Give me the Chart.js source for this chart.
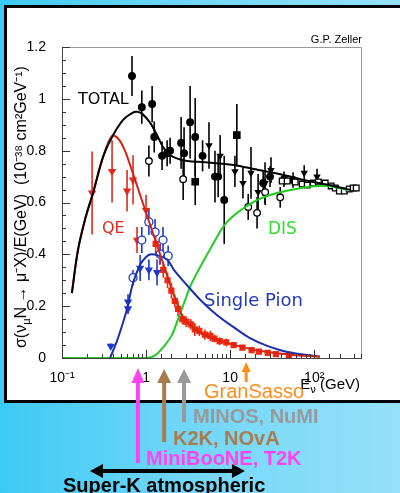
<!DOCTYPE html>
<html>
<head>
<meta charset="utf-8">
<script src="https://cdn.jsdelivr.net/npm/chart.js@4.4.1/dist/chart.umd.min.js"></script>
<style>
  html, body { margin: 0; padding: 0; }
  body {
    width: 400px; height: 493px; overflow: hidden; position: relative;
    background: linear-gradient(to right, #3ecaf6 0%, #6fd6f8 45%, #96e1fa 100%);
  }
  #panel {
    position: absolute; left: 4px; top: 5px; width: 400px; height: 392px;
    background: #fff; border: 3px solid #000;
  }
  #chart { position: absolute; left: 0; top: 0; }
</style>
</head>
<body>
<div id="panel"></div>
<canvas id="chart" width="400" height="493"></canvas>
<script>
// theory curves [E (GeV), sigma/E]
const curveTotal = [[0.131,0.25],[0.155,0.417],[0.19,0.54],[0.234,0.637],[0.308,0.776],[0.394,0.853],
  [0.53,0.918],[0.68,0.945],[0.78,0.95],[0.9,0.942],[1.12,0.907],[1.35,0.86],[1.59,0.814],[1.85,0.787],
  [2.1,0.776],[2.6,0.765],[3.1,0.76],[5,0.755],[10.9,0.745],[20,0.728],[42.8,0.706],[80,0.685],
  [168,0.664],[270,0.648]];
const curveQE = [[0.131,0.25],[0.155,0.417],[0.19,0.54],[0.234,0.637],[0.308,0.776],[0.394,0.857],
  [0.47,0.845],[0.56,0.8],[0.645,0.745],[0.85,0.629],[1.12,0.513],[1.35,0.436],[1.68,0.343],
  [2.04,0.262],[2.4,0.2],[2.76,0.158],[3.4,0.125],[4.4,0.096],[7,0.07],[15,0.04],[27.6,0.023],
  [60,0.011],[117,0.005]];
const curvePion = [[0.373,0],[0.45,0.065],[0.53,0.135],[0.594,0.19],[0.7,0.29],[0.85,0.36],[1.0,0.39],
  [1.15,0.4],[1.4,0.395],[1.78,0.38],[2.2,0.335],[2.9,0.29],[4.4,0.225],[7,0.165],[10.9,0.12],
  [17,0.078],[27.6,0.047],[50,0.022],[117,0.005]];
const curveDIS = [[0.1,0],[1.0,0],[1.28,0.01],[1.68,0.05],[2.04,0.09],[2.4,0.15],[2.93,0.225],
  [3.34,0.275],[4.14,0.335],[5.78,0.42],[9.2,0.525],[17.3,0.595],[30,0.629],[68,0.655],[143,0.664],
  [245,0.648]];

// measurements [E, value, error]
const blackDots = [[0.68,1.088,0.077],[0.89,0.968,0.064],[1.18,0.98,0.07],[1.25,0.853,0.06],
  [1.55,0.78,0.055],[1.78,0.79,0.05],[1.93,0.80,0.05],[2.61,0.83,0.1],[2.83,0.79,0.1],[3.34,0.91,0.14],
  [3.84,0.853,0.15],[4.7,0.78,0.06],[6.6,0.70,0.1],[7.2,0.70,0.08],[8.5,0.61,0.17],[24.7,0.675,0.05],
  [29.8,0.70,0.04],[43.7,0.69,0.03],[56,0.687,0.03]];
const blackSquares = [[3.84,0.68,0.09],[12,0.86,0.12]];
const blackOpen = [[1.08,0.76,0.06],[2.76,0.69,0.08],[16.4,0.583,0.05],[20.9,0.56,0.06],[26.1,0.64,0.05],
  [39.4,0.62,0.04]];
const blackTri = [[5.6,0.82,0.09],[7.6,0.78,0.08],[11.4,0.72,0.06],[14.2,0.675,0.06],[17.7,0.714,0.1],
  [21.5,0.64,0.07],[26,0.675,0.08],[30.6,0.725,0.05],[76,0.714,0.03],[108,0.70,0.03]];
const blackOpenSq = [[41.6,0.683,0.01],[47.7,0.683,0.01],[59.4,0.679,0.01],[72,0.671,0.01],
  [82.6,0.667,0.01],[97.3,0.675,0.01],[112,0.679,0.01],[135,0.675,0.01],[159,0.664,0.01],
  [178,0.656,0.01],[199,0.644,0.01],[228,0.644,0.01],[261,0.652,0.01],[291,0.656,0.01],[316,0.656,0.01]];
const redTri = [[0.228,0.637,0.16],[0.394,0.72,0.12],[0.594,0.645,0.08],[0.70,0.687,0.095],
  [0.78,0.455,0.05],[1.0,0.57,0.06]];
const redSq = [[1.3,0.44,0.04],[1.45,0.40,0.04],[1.6,0.34,0.03],[1.8,0.30,0.03],[2.0,0.26,0.03],
  [2.2,0.22,0.025],[2.4,0.19,0.03],[2.7,0.15,0.02],[3.0,0.14,0.02],[3.4,0.13,0.02],[3.8,0.11,0.025],
  [4.3,0.105,0.02],[5,0.09,0.02],[5.8,0.085,0.02],[6.5,0.075,0.015],[7.5,0.065,0.015],[9,0.06,0.015],
  [11,0.05,0.01],[14,0.04,0.01],[18,0.03,0.01],[22,0.025,0.008],[28,0.02,0.008],[35,0.015,0.006],
  [50,0.012,0.005]];
const blueOpen = [[0.70,0.31,0.03],[0.89,0.455,0.05],[1.08,0.525,0.05],[1.28,0.486,0.05],
  [1.47,0.401,0.04],[1.59,0.455,0.05],[1.83,0.394,0.04]];
const blueTri = [[0.38,0.046,0.01],[0.61,0.216,0.03],[0.61,0.19,0.02],[0.85,0.347,0.05],
  [1.08,0.34,0.04],[1.35,0.33,0.05]];

const xTickLabels = ['10⁻¹', '1', '10', '10²'];
const yMajorStep = 0.2;

// experiment arrows: energy where each one points
const arrowE = { miniboone: 0.80, k2k: 1.64, minos: 2.83, gransasso: 15.5 };
const superKRange = [0.215, 15.0];

const toXY = arr => arr.map(p => ({ x: p[0], y: p[1] }));
const errsOf = arr => arr.map(p => p[2]);

function curve(arr, color) {
  return { data: toXY(arr), showLine: true, borderColor: color, borderWidth: 2, pointRadius: 0,
    tension: 0.35, fill: false };
}
function points(arr, color, style, fillColor, rot, r) {
  return { data: toXY(arr), errs: errsOf(arr), showLine: false, pointStyle: style,
    pointRotation: rot || 0, pointRadius: r || 3.3, borderColor: color, borderWidth: 1.3,
    backgroundColor: fillColor, errColor: color };
}

const errorBars = {
  id: 'errorBars',
  beforeDatasetsDraw(chart) {
    const { ctx, scales: { x, y } } = chart;
    ctx.save();
    chart.data.datasets.forEach(ds => {
      if (!ds.errs) return;
      ctx.strokeStyle = ds.errColor;
      ctx.lineWidth = 1.6;
      ds.data.forEach((p, i) => {
        const px = x.getPixelForValue(p.x);
        ctx.beginPath();
        ctx.moveTo(px, y.getPixelForValue(p.y - ds.errs[i]));
        ctx.lineTo(px, y.getPixelForValue(p.y + ds.errs[i]));
        ctx.stroke();
      });
    });
    ctx.restore();
  }
};

const frameTicks = {
  id: 'frameTicks',
  afterDraw(chart) {
    const { ctx, chartArea: a, scales: { x, y } } = chart;
    ctx.save();
    ctx.strokeStyle = '#999';
    ctx.lineWidth = 1;
    ctx.beginPath();
    ctx.moveTo(a.left, a.top + 0.5); ctx.lineTo(a.right + 0.5, a.top + 0.5); ctx.lineTo(a.right + 0.5, a.bottom);
    ctx.stroke();
    ctx.strokeStyle = '#333';
    ctx.beginPath();
    x.ticks.forEach(t => {
      const l = Math.log10(t.value);
      const major = Math.abs(l - Math.round(l)) < 1e-6;
      const px = Math.round(x.getPixelForValue(t.value)) + 0.5;
      ctx.moveTo(px, a.bottom);
      ctx.lineTo(px, a.bottom - (major ? 8 : 4));
    });
    y.ticks.forEach(t => {
      const k = Math.round(t.value * 100);
      const major = k % Math.round(yMajorStep * 100) === 0;
      const py = Math.round(y.getPixelForValue(t.value)) + 0.5;
      ctx.moveTo(a.left, py);
      ctx.lineTo(a.left + (major ? 8 : 4), py);
    });
    ctx.stroke();
    ctx.restore();
  }
};

function upArrow(ctx, x, tip, tail, color, shaftW, headW, headH) {
  ctx.fillStyle = color;
  ctx.fillRect(x - shaftW / 2, tip + headH - 1, shaftW, tail - tip - headH + 1);
  ctx.beginPath();
  ctx.moveTo(x, tip);
  ctx.lineTo(x + headW / 2, tip + headH);
  ctx.lineTo(x - headW / 2, tip + headH);
  ctx.closePath();
  ctx.fill();
}

const annotations = {
  id: 'annotations',
  afterDraw(chart) {
    const { ctx, scales: { x } } = chart;
    ctx.save();
    ctx.textBaseline = 'middle';
    ctx.textAlign = 'left';
    const txt = (s, px, py, font, color) => { ctx.font = font; ctx.fillStyle = color; ctx.fillText(s, px, py); };

    txt('TOTAL', 78, 100, '16px "DejaVu Sans"', '#000');
    txt('QE', 102, 229, '16px "DejaVu Sans"', '#e02a1a');
    txt('DIS', 268, 230, '17px "DejaVu Sans"', '#33dd33');
    txt('Single Pion', 204, 301, '18px "DejaVu Sans"', '#2338b8');
    ctx.textAlign = 'right';
    txt('G.P. Zeller', 362, 40, '11px "Liberation Sans"', '#000');

    // x axis title: E_nu (GeV)
    ctx.textAlign = 'left';
    ctx.font = '15px "Liberation Sans"';
    const wE = ctx.measureText('E').width;
    ctx.font = '10px "DejaVu Sans"';
    const wNu = ctx.measureText('ν').width;
    ctx.font = '15px "Liberation Sans"';
    const wG = ctx.measureText(' (GeV)').width;
    let ex = 360 - wE - wNu - wG;
    txt('E', ex, 385, '15px "Liberation Sans"', '#000');
    txt('ν', ex + wE, 390, '10px "DejaVu Sans"', '#000');
    txt(' (GeV)', ex + wE + wNu, 385, '15px "Liberation Sans"', '#000');

    // y axis title, rotated
    ctx.save();
    ctx.translate(22, 348);
    ctx.rotate(-Math.PI / 2);
    const segs = [['σ(ν', 0, '16px "Liberation Sans"'], ['μ', 5, '10px "DejaVu Sans"'],
      ['N → μ⁻X)/E(GeV)  (10⁻³⁸ cm²GeV⁻¹)', 0, '16px "Liberation Sans"']];
    let sx = 0;
    segs.forEach(([s, dy, f]) => {
      ctx.font = f; ctx.fillStyle = '#000';
      ctx.fillText(s, sx, dy);
      sx += ctx.measureText(s).width;
    });
    ctx.restore();

    // experiments
    const px = e => x.getPixelForValue(e);
    upArrow(ctx, px(arrowE.gransasso), 362, 382, '#ff8c1a', 3, 9, 10);
    upArrow(ctx, px(arrowE.minos), 369, 422, '#999999', 4, 14, 14);
    upArrow(ctx, px(arrowE.k2k), 369, 442, '#a87c4c', 4, 14, 14);
    upArrow(ctx, px(arrowE.miniboone), 368, 463, '#ff44ee', 4, 13, 15);

    txt('GranSasso', 204, 392, '20px "Liberation Sans"', '#ff8c1a');
    txt('MINOS, NuMI', 193, 417, 'bold 20px "Liberation Sans"', '#999999');
    txt('K2K, NOvA', 173, 439, 'bold 20px "Liberation Sans"', '#a87c4c');
    txt('MiniBooNE, T2K', 146, 459, 'bold 20px "Liberation Sans"', '#ff44ee');

    // Super-K double arrow
    const x1 = px(superKRange[0]), x2 = px(superKRange[1]), ay = 471;
    ctx.fillStyle = '#000';
    ctx.fillRect(x1 + 10, ay - 2, x2 - x1 - 20, 4);
    ctx.beginPath();
    ctx.moveTo(x1, ay); ctx.lineTo(x1 + 13, ay - 7); ctx.lineTo(x1 + 13, ay + 7); ctx.closePath();
    ctx.moveTo(x2, ay); ctx.lineTo(x2 - 13, ay - 7); ctx.lineTo(x2 - 13, ay + 7); ctx.closePath();
    ctx.fill();
    ctx.textBaseline = 'alphabetic';
    txt('Super-K atmospheric', 63, 492, 'bold 20px "Liberation Sans"', '#000');
    ctx.restore();
  }
};

const ctx = document.getElementById('chart');
new Chart(ctx, {
  type: 'scatter',
  data: {
    datasets: [
      curve(curveTotal, '#000'),
      curve(curveQE, '#d82414'),
      curve(curvePion, '#1a2fb0'),
      curve(curveDIS, '#22cc22'),
      points(blackOpenSq, '#000', 'rect', '#fff', 0, 4),
      points(blackOpen, '#000', 'circle', '#fff'),
      points(blackDots, '#000', 'circle', '#000'),
      points(blackSquares, '#000', 'rect', '#000', 0, 4.5),
      points(blackTri, '#000', 'triangle', '#000', 180, 3),
      points(blueOpen, '#1a3ad0', 'circle', '#fff', 0, 4),
      points(blueTri, '#1a3ad0', 'triangle', '#1a3ad0', 180, 3.5),
      points(redTri, '#e02a1a', 'triangle', '#e02a1a', 180, 3.5),
      points(redSq, '#ee2a10', 'rect', '#ee2a10', 0, 3.5)
    ]
  },
  options: {
    responsive: false,
    animation: false,
    events: [],
    layout: { padding: { top: 47, right: 39, bottom: 105, left: 0 } },
    plugins: { legend: { display: false }, tooltip: { enabled: false } },
    scales: {
      x: {
        type: 'logarithmic', min: 0.1, max: 360,
        afterFit: s => { s.height = 30; },
        grid: { display: false },
        border: { display: true, color: '#444', width: 1 },
        ticks: {
          autoSkip: false, maxRotation: 0, padding: 4, color: '#000',
          font: { family: 'Liberation Sans', size: 14 },
          callback: v => {
            const l = Math.log10(v);
            return Math.abs(l - Math.round(l)) < 1e-6 ? xTickLabels[Math.round(l) + 1] : '';
          }
        }
      },
      y: {
        min: 0, max: 1.2,
        afterFit: s => { s.width = 62; },
        grid: { display: false },
        border: { display: true, color: '#444', width: 1 },
        ticks: {
          stepSize: 0.05, autoSkip: false, padding: 8, color: '#000',
          font: { family: 'Liberation Sans', size: 14 },
          callback: v => {
            const k = Math.round(v * 100);
            return k % Math.round(yMajorStep * 100) === 0 ? String(k / 100) : '';
          }
        }
      }
    }
  },
  plugins: [errorBars, frameTicks, annotations]
});
</script>
</body>
</html>
